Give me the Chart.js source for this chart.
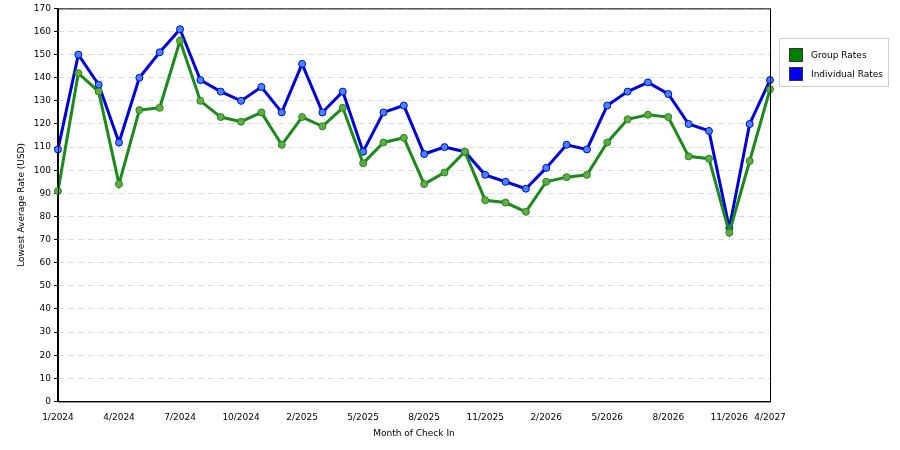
<!DOCTYPE html>
<html>
<head>
<meta charset="utf-8">
<script src="https://cdn.jsdelivr.net/npm/chart.js@4"></script>
<style>
  body { margin: 0; background: #fff; }
  #wrap { position: relative; width: 900px; height: 450px; }
  #legend { position: absolute; left: 779px; top: 38px; width: 110px; height: 49px; border: 1px solid #ccc;
    font: 9px "DejaVu Sans", sans-serif; color: #000; box-sizing: border-box; padding: 6px 0 0 9px; white-space: nowrap; }
  #legend div { height: 19px; display: flex; align-items: center; }
  #legend span { display: inline-block; width: 12px; height: 12px; margin-right: 8px; border: 1px solid #333; }
</style>
</head>
<body>
<div id="wrap">
  <canvas id="chart" width="900" height="450"></canvas>
  <div id="legend">
    <div><span style="background:#008000"></span>Group Rates</div>
    <div><span style="background:#0000ee"></span>Individual Rates</div>
  </div>
</div>
<script>
// Month labels (categories are not evenly spaced in time)
const months = ['1/2024','2/2024','3/2024','4/2024','5/2024','6/2024','7/2024','8/2024','9/2024','10/2024',
  '11/2024','1/2025','2/2025','3/2025','4/2025','5/2025','6/2025','7/2025','8/2025','9/2025','10/2025',
  '11/2025','12/2025','1/2026','2/2026','3/2026','4/2026','5/2026','6/2026','7/2026','8/2026','9/2026',
  '10/2026','11/2026','2/2027','4/2027'];

const groupRates = [91,142,134,94,126,127,156,130,123,121,125,111,123,119,127,103,112,114,94,99,108,
  87,86,82,95,97,98,112,122,124,123,106,105,73,104,135];

const individualRates = [109,150,137,112,140,151,161,139,134,130,136,125,146,125,134,108,125,128,107,110,108,
  98,95,92,101,111,109,128,134,138,133,120,117,75,120,139];

const font = { family: 'DejaVu Sans, sans-serif', size: 9 };

// draw a frame around the plot area
const frame = {
  id: 'frame',
  afterDraw(chart) {
    const a = chart.chartArea, c = chart.ctx;
    c.save();
    c.strokeStyle = '#000';
    c.lineWidth = 1;
    c.strokeRect(a.left + 0.5, a.top + 0.5, a.right - a.left, a.bottom - a.top);
    c.restore();
  }
};

function series(label, data, line, point) {
  return {
    label: label,
    data: data,
    borderColor: line,
    borderWidth: 3,
    pointRadius: 3.5,
    pointBackgroundColor: point,
    pointBorderColor: line,
    pointBorderWidth: 1,
    tension: 0
  };
}

new Chart(document.getElementById('chart').getContext('2d'), {
  type: 'line',
  data: {
    labels: months,
    datasets: [
      series('Group Rates', groupRates, '#1a8a1a', '#66aa44'),
      series('Individual Rates', individualRates, '#0000dd', '#4488ff')
    ]
  },
  options: {
    responsive: false,
    animation: false,
    layout: { padding: { top: -3, right: 130, left: 12, bottom: 9 } },
    plugins: { legend: { display: false }, tooltip: { enabled: false } },
    scales: {
      x: {
        offset: false,
        grid: { display: false },
        border: { color: '#000' },
        ticks: {
          font: font, color: '#000', autoSkip: false, maxRotation: 0,
          callback: function (v, i) {
            return (i % 3 === 0 || i === months.length - 1) ? months[i] : '';
          }
        },
        title: { display: true, text: 'Month of Check In', font: font, color: '#000', padding: 2 }
      },
      y: {
        min: 0, max: 170,
        grid: { color: '#ddd', tickLength: 4, tickColor: '#000' },
        border: { color: '#000', dash: [6, 4] },
        ticks: { stepSize: 10, font: font, color: '#000' },
        title: { display: true, text: 'Lowest Average Rate (USD)', font: font, color: '#000' }
      }
    }
  },
  plugins: [frame]
});
</script>
</body>
</html>
